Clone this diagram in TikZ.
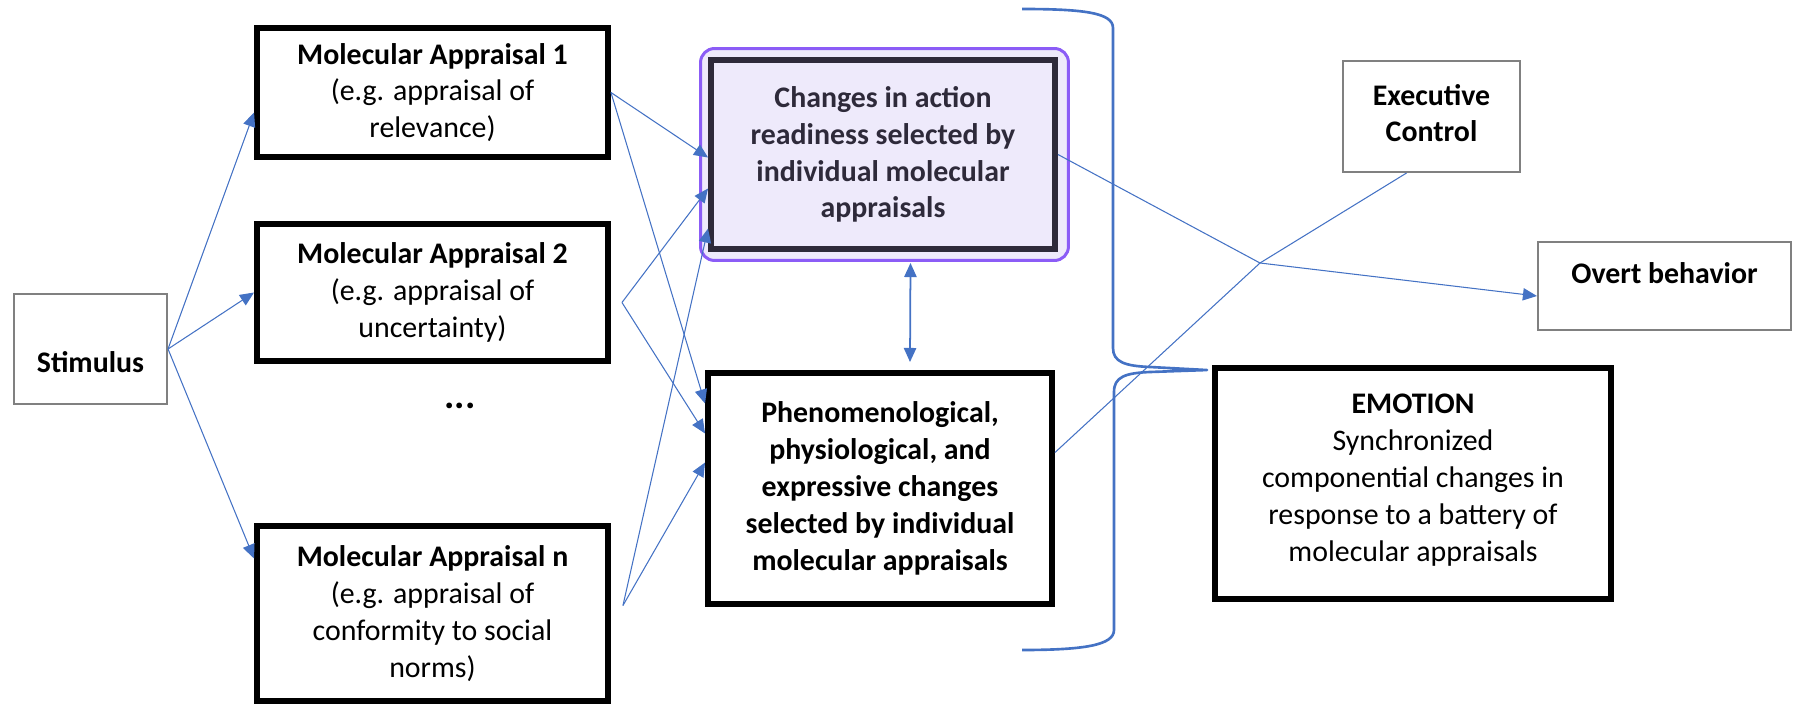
\documentclass[tikz,border=0pt]{standalone}
\usepackage{fontspec}
\setmainfont{Carlito}
\usetikzlibrary{arrows.meta,calc}

\definecolor{linkblue}{HTML}{4472C4}
\definecolor{glowpurple}{HTML}{8B5CF6}
\definecolor{lavender}{HTML}{EEEAFB}
\definecolor{inkdark}{HTML}{2E2A3A}

\tikzset{
  txt/.style={align=center, inner sep=0pt, font=\fontsize{17}{21}\selectfont},
  thinbox/.style={txt, draw=gray, line width=0.9pt, font=\fontsize{17}{21}\selectfont\bfseries},
  thickbox/.style={txt, draw=black, line width=3.4pt},
  link/.style={draw=linkblue, line width=0.6pt, -{Triangle[length=8pt,width=7pt]}},
  plain/.style={draw=linkblue, line width=0.6pt},
  brace/.style={draw=linkblue, line width=1.5pt, line join=round},
}

\begin{document}
\begin{tikzpicture}[x=0.02cm,y=-0.02cm]
\useasboundingbox (0,0) rectangle (1793,706);

% left column
\node[thinbox, minimum width=3.07cm, minimum height=2.21cm] (stim) at (90.5,349) {\raisebox{-0.26cm}[\height][\depth]{Stimulus}};
\node[thickbox, minimum width=7.02cm, minimum height=2.58cm] (ma1) at (432.5,92.5) {\textbf{Molecular Appraisal 1}\\(e.g. appraisal of\\relevance)};
\node[thickbox, minimum width=7.02cm, minimum height=2.74cm] (ma2) at (432.5,292.5) {\textbf{Molecular Appraisal 2}\\(e.g. appraisal of\\uncertainty)};
\node[txt, font=\fontsize{22}{21}\selectfont\bfseries] (dots) at (460,406) {...};
\node[thickbox, minimum width=7.02cm, minimum height=3.5cm] (man) at (432.5,613.5) {\textbf{Molecular Appraisal n}\\(e.g. appraisal of\\conformity to social\\norms)};

% middle column
\node[draw=glowpurple, line width=1.7pt, rounded corners=0.28cm, fill=lavender, minimum width=7.36cm, minimum height=4.24cm] (readyglow) at (884.5,154.5) {};
\node[thickbox, draw=inkdark, text=inkdark, fill=lavender, minimum width=6.88cm, minimum height=3.78cm, font=\fontsize{17}{21}\selectfont\bfseries] (ready) at (883,154.5) {Changes in action\\readiness selected by\\individual molecular\\appraisals};
\node[thickbox, minimum width=6.88cm, minimum height=4.62cm, font=\fontsize{17}{21}\selectfont\bfseries] (phen) at (880,488.5) {Phenomenological,\\physiological, and\\expressive changes\\selected by individual\\molecular appraisals};

% right column
\node[thinbox, minimum width=3.55cm, minimum height=2.23cm] (exec) at (1431.5,116.5) {Executive\\Control\\[-0.6cm]\mbox{}};
\node[thinbox, minimum width=5.07cm, minimum height=1.77cm] (overt) at (1664.5,286) {\raisebox{0.26cm}[\height][\depth]{Overt behavior}};
\node[thickbox, minimum width=7.92cm, minimum height=4.62cm] (emo) at (1413,483.5) {\textbf{EMOTION}\\Synchronized\\componential changes in\\response to a battery of\\molecular appraisals\\[-0.5cm]\mbox{}};

% stimulus to appraisals
\draw[link] (stim.east) -- ($(ma1.west)+(0,20)$);
\draw[link] (stim.east) -- (ma2.west);
\draw[link] (stim.east) -- ($(man.west)+(0,-55)$);

% appraisals to changes
\coordinate (ma2out) at ($(ma2.east)+(11,10)$);
\coordinate (manout) at ($(man.east)+(12,-8)$);
\draw[link] (ma1.east) -- ($(ready.west)+(0,3)$);
\draw[link] (ma1.east) -- ($(phen.west)+(0,-85)$);
\draw[link] (ma2out) -- ($(ready.west)+(0,34)$);
\draw[link] (ma2out) -- ($(phen.west)+(0,-55)$);
\draw[link] (manout) -- ($(ready.west)+(0,74)$);
\draw[link] (manout) -- ($(phen.west)+(0,-26)$);
\draw[link, line width=1pt, {Triangle[length=8pt,width=7pt]}-{Triangle[length=8pt,width=7pt]}] ($(readyglow.south)+(26,1)$) -- ($(phen.north)+(30,-8)$);

% outputs
\coordinate (hub) at (1260,263);
\draw[link] (ready.east) -- (hub) -- ($(overt.west)+(0,10)$);
\draw[plain] ($(phen.east)+(0,-36)$) -- (hub) -- ($(exec.south)+(-25,0)$);

% brace
\coordinate (tip) at ($(emo.north west)+(-5,5)$);
\draw[brace] (1022,9) .. controls (1085,9) and (1113,13) .. (1113,28) -- (1113,348)
  .. controls (1113,362) and (1125,366) .. (1150,367) -- (tip)
  -- (1150,372) .. controls (1125,373) and (1114,377) .. (1114,392) -- (1114,630)
  .. controls (1114,645) and (1085,650) .. (1022,650);
\end{tikzpicture}
\end{document}
